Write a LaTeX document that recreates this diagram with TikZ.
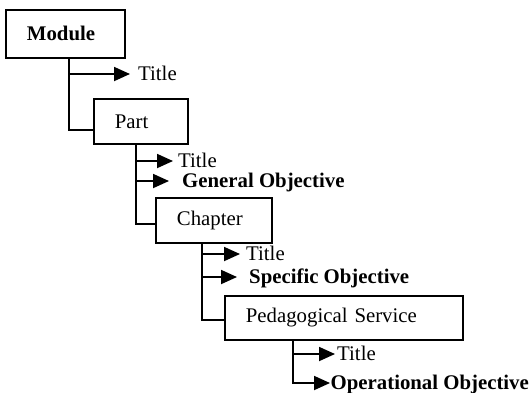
\documentclass[tikz,border=0pt]{standalone}
\usepackage{fontspec}
\setmainfont{Liberation Serif}
\usetikzlibrary{arrows.meta,calc}
\begin{document}
\begin{tikzpicture}[x=1pt,y=-1pt,
  font=\fontsize{20.8}{24}\selectfont,
  level/.style={draw, line width=1.8pt, anchor=north west, inner xsep=21pt,
    inner ysep=0pt, align=left},
  link/.style={line width=1.8pt},
  arr/.style={line width=1.8pt, -{Triangle[length=16pt,width=14pt]}},
  lab/.style={anchor=west, inner ysep=0pt, text height=17pt, text depth=4pt}]
\useasboundingbox (0,0) rectangle (532,392);

% hierarchy boxes
\node[level, text width=77pt, minimum height=48pt] (Module) at (5,9) {\textbf{Module}};
\node[level, text width=52pt, minimum height=45pt] (Part) at (93,98) {Part};
\node[level, text width=74pt, minimum height=45pt] (Chapter) at (155,197) {Chapter};
\node[level, text width=196pt, minimum height=44pt] (Ped) at (224,295) {Pedagogical Service};

% trunk start points under each box
\coordinate (m0) at ($(Module.south west)+(64,0)$);
\coordinate (p0) at ($(Part.south west)+(43,0)$);
\coordinate (c0) at ($(Chapter.south west)+(47,0)$);
\coordinate (s0) at ($(Ped.south west)+(69,0)$);

% attribute labels
\node[lab, inner xsep=8pt] (mT) at (130,74) {Title};
\node[lab, inner xsep=5pt] (pT) at (173,161) {Title};
\node[lab, inner xsep=13pt] (pG) at (169,181) {\textbf{General Objective}};
\node[lab, inner xsep=6pt] (cT) at (240,254) {Title};
\node[lab, inner xsep=12pt] (cS) at (237,277) {\textbf{Specific Objective}};
\node[lab, inner xsep=2pt] (sT) at (335,354) {Title};
\node[lab, inner xsep=0.5pt] (sO) at (330,383) {\textbf{Operational Objective}};

% Module branch
\draw[link] (m0) |- ($(Part.south west)+(0,-15)$);
\draw[arr] (m0 |- mT.west) -- (mT.west);

% Part branch
\draw[link] (p0) |- ($(Chapter.south west)+(0,-20)$);
\draw[arr] (p0 |- pT.west) -- (pT.west);
\draw[arr] (p0 |- pG.west) -- (pG.west);

% Chapter branch
\draw[link] (c0) |- ($(Ped.south west)+(0,-21)$);
\draw[arr] (c0 |- cT.west) -- (cT.west);
\draw[arr] (c0 |- cS.west) -- (cS.west);

% Pedagogical Service branch
\draw[arr] (s0 |- sT.west) -- (sT.west);
\draw[arr] (s0) |- (sO.west);
\end{tikzpicture}
\end{document}
